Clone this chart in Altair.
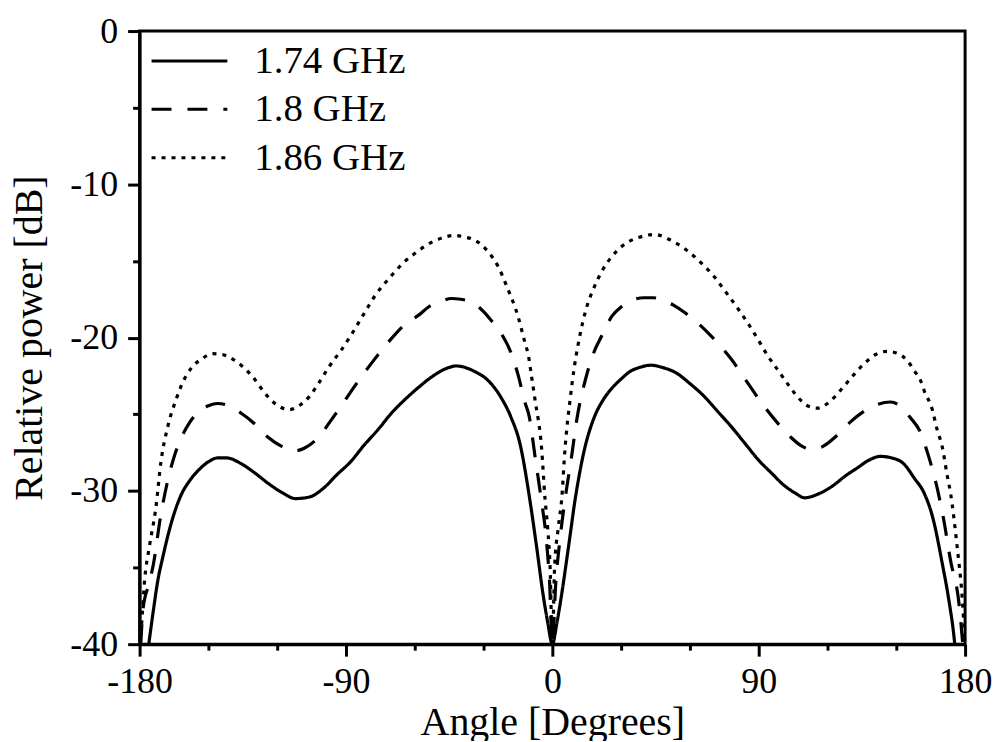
import altair as alt
import pandas as pd

series_names = ["1.74 GHz", "1.8 GHz", "1.86 GHz"]

angle_174 = [-176, -174, -172, -170, -166, -162, -158, -154, -150, -146, -142, -136, -130, -124,
             -118, -112, -106, -100, -94, -88, -82, -76, -70, -64, -58, -52, -46, -42, -38, -34,
             -28, -22, -18, -14, -10, -7, -4, -2, 0, 2, 4, 7, 10, 14, 18, 22, 26, 30, 34, 38, 43,
             48, 54, 60, 66, 72, 78, 84, 90, 96, 100, 106, 110, 116, 122, 128, 133, 138, 143, 148,
             153, 158, 162, 166, 170, 173, 175, 175.5]
power_174 = [-40, -37.8, -35.8, -34.4, -32.0, -30.3, -29.3, -28.6, -28.1, -27.85, -27.85, -28.2,
             -28.8, -29.5, -30.1, -30.5, -30.4, -29.85, -28.95, -28.1, -27.0, -26.0, -24.9, -24.0,
             -23.2, -22.5, -22.0, -21.85, -21.95, -22.2, -22.8, -24.0, -25.2, -27.0, -30.4, -33.5,
             -36.8, -38.6, -40, -38.6, -36.8, -33.7, -30.5, -27.3, -25.3, -24.1, -23.3, -22.7,
             -22.2, -21.95, -21.8, -21.95, -22.3, -23.0, -23.8, -24.8, -25.8, -26.9, -28.0, -28.9,
             -29.5, -30.15, -30.45, -30.2, -29.7, -29.0, -28.5, -28.0, -27.75, -27.85, -28.2, -29.2,
             -30.1, -31.8, -34.7, -37.2, -39.3, -40]

angle_180 = [-179.5, -178.5, -176, -174, -171, -168, -165, -162, -158, -154, -150, -146, -142,
             -136, -130, -124, -118, -113, -108, -102, -97, -90, -84, -78, -71, -64, -58, -54, -48,
             -44, -40, -35, -30, -26, -22, -18, -15, -12, -10, -7.6, -4.8, -2.6, -1.2, 0, 1.5, 3.3,
             5.5, 8.4, 10.6, 14.5, 18, 21.5, 26, 30, 35, 40, 44, 48, 53, 58, 63, 68, 73, 78, 84, 90,
             97, 104, 109, 113.5, 118, 124, 130, 136, 142, 147.5, 152, 156, 160.6, 164, 167,
             170.7, 173.6, 177.3, 179]
power_180 = [-40, -37.7, -36.1, -34.8, -31.8, -29.5, -27.8, -26.6, -25.5, -24.8, -24.45, -24.3,
             -24.4, -24.9, -25.6, -26.5, -27.1, -27.4, -27.2, -26.5, -25.5, -24.0, -22.7, -21.5,
             -20.2, -19.1, -18.5, -18.0, -17.6, -17.45, -17.5, -17.7, -18.3, -19.0, -19.8, -21.0,
             -22.4, -24.2, -25.2, -27.7, -30.6, -33.2, -36.0, -40, -36.0, -33.2, -30.6, -27.75,
             -25.4, -22.7, -21.0, -19.9, -18.6, -18.0, -17.55, -17.4, -17.4, -17.55, -17.9, -18.4,
             -19.0, -19.7, -20.5, -21.4, -22.7, -24.0, -25.35, -26.5, -27.1, -27.3, -27.1, -26.4,
             -25.5, -24.8, -24.35, -24.2, -24.5, -25.2, -26.2, -27.7, -29.3, -31.9, -34.5, -37.3,
             -40]

angle_186 = [-180, -179.3, -177.8, -175.7, -173, -170.6, -167.7, -164, -162, -157, -153, -148,
             -144, -139.4, -135, -130.7, -127, -123.5, -119, -114.8, -110, -106, -102, -97.4, -92,
             -87.2, -82, -77, -71, -65.5, -59, -52.5, -47, -43, -38, -33.6, -28, -23.5, -19.5, -15,
             -12, -10.4, -9, -7.5, -4.7, -3.2, -2, -1, 0, 1, 2.5, 4.1, 5.5, 7.7, 9.5, 11.3, 15, 18,
             21.5, 26, 31.6, 38, 44.6, 51, 57.7, 64, 70.7, 76, 80.9, 85, 89.6, 94, 98.3, 103,
             108.4, 112, 115.7, 120, 125.9, 131, 136, 141, 146, 150, 154.8, 158, 160.6, 162,
             165.7, 167.8, 170, 172.2, 173.6, 176.5, 178.7, 180]
power_186 = [-40, -39.0, -35.8, -33.6, -31.2, -28.0, -25.8, -24.0, -23.2, -21.9, -21.4, -21.05,
             -21.1, -21.4, -21.9, -22.55, -23.3, -23.95, -24.5, -24.7, -24.4, -23.85, -23.0, -21.9,
             -20.8, -19.7, -18.4, -17.2, -16.1, -15.2, -14.4, -13.77, -13.45, -13.33, -13.45,
             -13.66, -14.4, -15.4, -16.8, -18.6, -20.3, -21.2, -22.6, -24.1, -27.2, -30.5, -32.5,
             -34.9, -40, -34.9, -32.5, -30.5, -27.3, -24.1, -22.0, -20.4, -18.0, -16.8, -15.7,
             -14.7, -13.9, -13.45, -13.27, -13.6, -14.2, -15.0, -16.05, -17.1, -18.1, -19.0,
             -20.1, -21.2, -22.1, -23.1, -24.1, -24.5, -24.6, -24.3, -23.4, -22.5, -21.7, -21.1,
             -20.9, -21.0, -21.5, -22.2, -22.8, -23.4, -24.7, -26.0, -27.1, -29.0, -30.1, -33.6,
             -36.9, -40]

x_ticks = [-180, -150, -120, -90, -60, -30, 0, 30, 60, 90, 120, 150, 180]
y_ticks = [0, -5, -10, -15, -20, -25, -30, -35, -40]

frames = []
for name, a, p in zip(series_names, [angle_174, angle_180, angle_186],
                      [power_174, power_180, power_186]):
    frames.append(pd.DataFrame({"angle": a, "power": p, "series": name}))
df = pd.concat(frames, ignore_index=True)

FONT = "Liberation Serif"

chart = alt.Chart(df).mark_line(
    color="black", strokeWidth=3.2, interpolate="monotone", clip=True
).encode(
    x=alt.X("angle:Q",
            scale=alt.Scale(domain=[-180, 180], nice=False, zero=False),
            axis=alt.Axis(
                title="Angle [Degrees]", values=x_ticks,
                labelExpr="datum.value % 90 === 0 ? '' + datum.value : ''",
                tickSize={"condition": {"test": "datum.value % 90 === 0", "value": 12}, "value": 6},
                labelFlush=False, labelOverlap=False, labelBound=False,
                labelPadding=8, titlePadding=4, grid=False,
            )),
    y=alt.Y("power:Q",
            scale=alt.Scale(domain=[-40, 0], nice=False, zero=False),
            axis=alt.Axis(
                title="Relative power [dB]", values=y_ticks,
                labelExpr="datum.value % 10 === 0 ? '' + datum.value : ''",
                tickSize={"condition": {"test": "datum.value % 10 === 0", "value": 12}, "value": 7},
                labelFlush=False, labelOverlap=False, labelBound=False,
                labelPadding=10, titlePadding=20, grid=False,
            )),
    strokeDash=alt.StrokeDash(
        "series:N",
        scale=alt.Scale(domain=series_names, range=[[1, 0], [20, 16], [4, 6]]),
        sort=series_names,
        legend=alt.Legend(
            title=None, orient="none", legendX=10.5, legendY=10, padding=0,
            clipHeight=40, rowPadding=8.5, symbolType="stroke", symbolSize=5776,
            symbolStrokeWidth=3, symbolStrokeColor="black", labelOffset=25.5,
            labelFontSize=39, labelFont=FONT, labelColor="black", labelLimit=400,
        )),
    order=alt.Order("angle:Q"),
).properties(
    width=828, height=615,
    autosize=alt.AutoSizeParams(type="none"),
    padding={"left": 132, "top": 22, "right": 30, "bottom": 96},
).configure_view(
    stroke="black", strokeWidth=3
).configure_axis(
    labelFont=FONT, titleFont=FONT, labelFontSize=36, titleFontSize=40,
    titleFontWeight="normal", labelColor="black", titleColor="black",
    domainColor="black", domainWidth=3, tickColor="black", tickWidth=3,
)

chart.save("out.html", embed_options={"renderer": "svg", "actions": False})
